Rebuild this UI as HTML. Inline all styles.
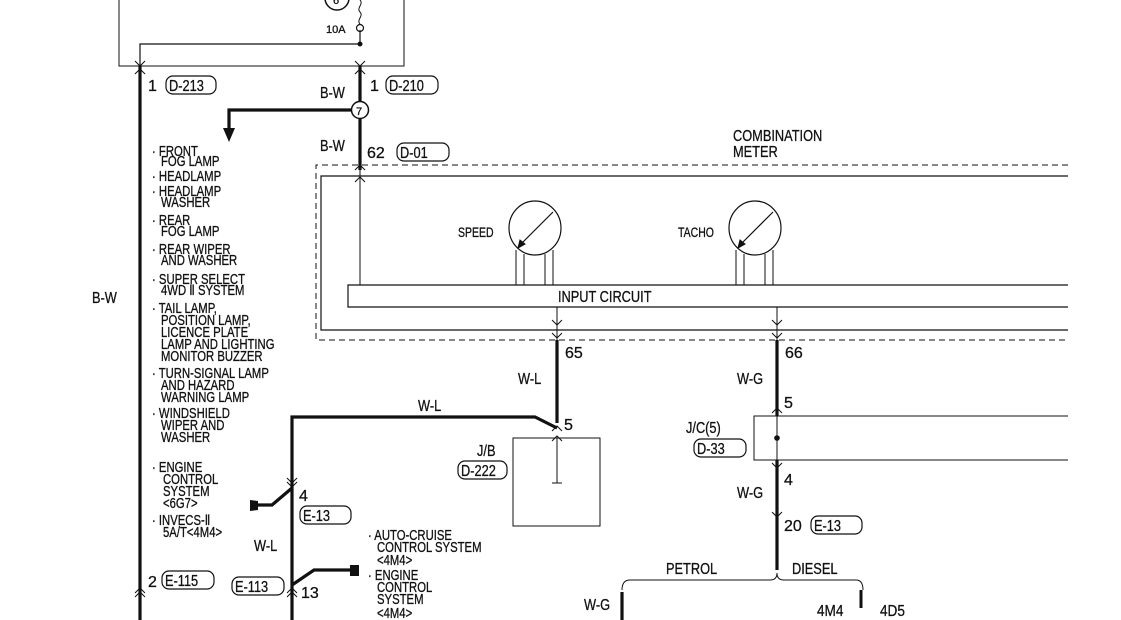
<!DOCTYPE html>
<html><head><meta charset="utf-8"><style>
html,body{margin:0;padding:0;background:#fff;}
svg{display:block;}
text{font-family:"Liberation Sans",sans-serif;font-size:16px;fill:#111;stroke:#111;stroke-width:0.3;}
.s text{font-size:14.5px;}
</style></head><body>
<svg width="1121" height="620" viewBox="0 0 1121 620" xmlns="http://www.w3.org/2000/svg">
<g fill="none" stroke="#111">
<path d="M119 0 V66 H404 V0" stroke-width="1"/>
<path d="M140 66 V44 H360 V30" stroke-width="1.2"/>
<circle cx="360" cy="44" r="2" fill="#111"/>
<circle cx="360" cy="28" r="3.5" stroke-width="1.2"/>
<path d="M360 24 C356 20 364 16 360 12 C356 8 364 4 360 0" stroke-width="1"/>
<circle cx="337" cy="-2" r="12" stroke-width="1.5"/>
<path d="M140 66 V620" stroke-width="3.2"/>
<path d="M360 66 V170" stroke-width="3.2"/>
<path d="M352 110 H229 V128" stroke-width="3.2"/>
<path d="M135 61 L140 66 L145 61 M135 74 L140 69 L145 74 M355 61 L360 66 L365 61 M355 74 L360 69 L365 74" stroke-width="1"/>
<path d="M1068 165 H316 V340 H1068" stroke-dasharray="6 4" stroke-width="1"/>
<path d="M1068 176 H321 V330 H1068" stroke-width="1.2"/>
<path d="M1068 285 H348 V307 H1068" stroke-width="1.2"/>
<path d="M360 170 V285" stroke-width="1"/>
<path d="M355 170 L360 165 L365 170 M355 182 L360 177 L365 182" stroke-width="1"/>
<ellipse cx="535" cy="228" rx="26" ry="27" stroke-width="1.2"/>
<path d="M516 250 V285 M524 254 V285 M545 254 V285 M553 250 V285" stroke-width="1"/>
<path d="M553 212 L520 245" stroke-width="1.2"/>
<polygon points="518,248 520,240 525,244" fill="#111"/>
<ellipse cx="755" cy="228" rx="26" ry="27" stroke-width="1.2"/>
<path d="M736 250 V285 M744 254 V285 M765 254 V285 M773 250 V285" stroke-width="1"/>
<path d="M773 212 L740 245" stroke-width="1.2"/>
<polygon points="738,248 740,240 745,244" fill="#111"/>
<path d="M557 307 V340 M777 307 V340" stroke-width="1"/>
<path d="M557 340 V423 M777 340 V416 M777 460 V570" stroke-width="3.2"/>
<path d="M552 320 L557 325 L562 320 M772 320 L777 325 L782 320 M552 333 L557 338 L562 333 M772 333 L777 338 L782 333" stroke-width="1"/>
<path d="M1068 416 H754 V460 H1068" stroke-width="1"/>
<path d="M777 416 V460" stroke-width="1"/>
<circle cx="777" cy="438" r="2.3" fill="#111"/>
<path d="M772 413 L777 408 L782 413 M772 463 L777 468 L782 463 M772 512 L777 517 L782 512" stroke-width="1"/>
<path d="M622 590 Q622 580 630 580 H770 Q777 580 777 573 Q777 580 784 580 H856 Q863 580 863 590" stroke-width="1"/>
<path d="M622 592 V620" stroke-width="3.2"/>
<path d="M861 590 V608" stroke-width="3"/>
<path d="M292 620 V417 H535 L557 428" stroke-width="3.2"/>
<path d="M552 431 L557 426 L562 431 M552 441 L557 436 L562 441" stroke-width="1"/>
<rect x="513" y="438" width="87" height="88" stroke-width="1"/>
<path d="M557 438 V483 M552 483 H562" stroke-width="1"/>
<path d="M292 488 L272 505 H256" stroke-width="3.2"/>
<path d="M287 482 L292 487 L297 482 M287 478 L292 483 L297 478" stroke-width="1"/>
<path d="M292 585 L314 570 H352" stroke-width="3.2"/>
<path d="M287 593 L292 588 L297 593 M287 597 L292 592 L297 597 M135 593 L140 588 L145 593 M135 597 L140 592 L145 597" stroke-width="1"/>
<rect x="166" y="76" width="50" height="18" rx="7" stroke-width="1.2"/>
<rect x="386" y="76" width="52" height="18" rx="7" stroke-width="1.2"/>
<rect x="397" y="143" width="52" height="18" rx="7" stroke-width="1.2"/>
<rect x="458" y="461" width="49" height="18" rx="7" stroke-width="1.2"/>
<rect x="300" y="506" width="51" height="18" rx="7" stroke-width="1.2"/>
<rect x="162" y="571" width="52" height="18" rx="7" stroke-width="1.2"/>
<rect x="232" y="577" width="52" height="18" rx="7" stroke-width="1.2"/>
<rect x="694" y="439" width="52" height="18" rx="7" stroke-width="1.2"/>
<rect x="811" y="516" width="51" height="18" rx="7" stroke-width="1.2"/>
</g>
<circle cx="360" cy="110" r="8.5" fill="#fff" stroke="#111" stroke-width="1.5"/>
<text x="356" y="115" style="font-size:11px">7</text>
<text x="333" y="4" style="font-size:11px">6</text>
<polygon points="223,128 235,128 229,142" fill="#111"/>
<polygon points="250,500 258,501 258,510 250,511" fill="#111"/>
<polygon points="350,565 359,565 359,576 350,576" fill="#111"/>
<g>
<text x="326" y="33" style="font-size:11px">10A</text>
<text x="148" y="91">1</text><text transform="translate(169,91) scale(.8,1)">D-213</text>
<text transform="translate(320,98) scale(.8,1)">B-W</text>
<text x="370" y="91">1</text><text transform="translate(389,91) scale(.8,1)">D-210</text>
<text transform="translate(320,151) scale(.8,1)">B-W</text>
<text x="367" y="158">62</text><text transform="translate(400,158) scale(.8,1)">D-01</text>
<text transform="translate(733,141) scale(.8,1)">COMBINATION</text>
<text transform="translate(733,157) scale(.8,1)">METER</text>
<text transform="translate(458,237) scale(.75,1)" style="font-size:14px">SPEED</text>
<text transform="translate(678,237) scale(.75,1)" style="font-size:14px">TACHO</text>
<text transform="translate(558,302) scale(.8,1)">INPUT CIRCUIT</text>
<text transform="translate(92,303) scale(.8,1)">B-W</text>
<text x="565" y="358">65</text>
<text x="785" y="358">66</text>
<text transform="translate(518,384) scale(.8,1)">W-L</text>
<text transform="translate(737,384) scale(.8,1)">W-G</text>
<text x="784" y="408">5</text>
<text x="564" y="430">5</text>
<text transform="translate(418,411) scale(.8,1)">W-L</text>
<text transform="translate(477,456) scale(.8,1)">J/B</text>
<text transform="translate(461,476) scale(.8,1)">D-222</text>
<text transform="translate(686,433) scale(.8,1)">J/C(5)</text>
<text transform="translate(697,454) scale(.8,1)">D-33</text>
<text x="784" y="485">4</text>
<text transform="translate(737,498) scale(.8,1)">W-G</text>
<text x="784" y="531">20</text><text transform="translate(814,531) scale(.8,1)">E-13</text>
<text transform="translate(666,574) scale(.8,1)">PETROL</text>
<text transform="translate(792,574) scale(.8,1)">DIESEL</text>
<text transform="translate(584,610) scale(.8,1)">W-G</text>
<text transform="translate(817,616) scale(.85,1)">4M4</text>
<text transform="translate(880,616) scale(.85,1)">4D5</text>
<text x="299" y="501">4</text>
<text transform="translate(303,521) scale(.8,1)">E-13</text>
<text transform="translate(254,551) scale(.8,1)">W-L</text>
<text x="148" y="587">2</text><text transform="translate(165,586) scale(.8,1)">E-115</text>
<text transform="translate(235,592) scale(.8,1)">E-113</text>
<text x="301" y="598">13</text>
</g>
<g class="s">
<text transform="translate(152,156) scale(.78,1)">· FRONT</text>
<text transform="translate(161,166) scale(.78,1)">FOG LAMP</text>
<text transform="translate(152,181) scale(.78,1)">· HEADLAMP</text>
<text transform="translate(152,196) scale(.78,1)">· HEADLAMP</text>
<text transform="translate(161,207) scale(.78,1)">WASHER</text>
<text transform="translate(152,225) scale(.78,1)">· REAR</text>
<text transform="translate(161,236) scale(.78,1)">FOG LAMP</text>
<text transform="translate(152,254) scale(.78,1)">· REAR WIPER</text>
<text transform="translate(161,265) scale(.78,1)">AND WASHER</text>
<text transform="translate(152,284) scale(.78,1)">· SUPER SELECT</text>
<text transform="translate(161,295) scale(.78,1)">4WD Ⅱ SYSTEM</text>
<text transform="translate(152,313) scale(.78,1)">· TAIL LAMP,</text>
<text transform="translate(161,325) scale(.78,1)">POSITION LAMP,</text>
<text transform="translate(161,337) scale(.78,1)">LICENCE PLATE</text>
<text transform="translate(161,349) scale(.78,1)">LAMP AND LIGHTING</text>
<text transform="translate(161,361) scale(.78,1)">MONITOR BUZZER</text>
<text transform="translate(152,378) scale(.78,1)">· TURN-SIGNAL LAMP</text>
<text transform="translate(161,390) scale(.78,1)">AND HAZARD</text>
<text transform="translate(161,402) scale(.78,1)">WARNING LAMP</text>
<text transform="translate(152,418) scale(.78,1)">· WINDSHIELD</text>
<text transform="translate(161,430) scale(.78,1)">WIPER AND</text>
<text transform="translate(161,442) scale(.78,1)">WASHER</text>
<text transform="translate(152,472) scale(.78,1)">· ENGINE</text>
<text transform="translate(163,484) scale(.78,1)">CONTROL</text>
<text transform="translate(163,496) scale(.78,1)">SYSTEM</text>
<text transform="translate(163,508) scale(.78,1)">&lt;6G7&gt;</text>
<text transform="translate(152,525) scale(.78,1)">· INVECS-Ⅱ</text>
<text transform="translate(163,537) scale(.78,1)">5A/T&lt;4M4&gt;</text>
<text transform="translate(368,540) scale(.78,1)">· AUTO-CRUISE</text>
<text transform="translate(377,552) scale(.78,1)">CONTROL SYSTEM</text>
<text transform="translate(377,565) scale(.78,1)">&lt;4M4&gt;</text>
<text transform="translate(368,580) scale(.78,1)">· ENGINE</text>
<text transform="translate(377,592) scale(.78,1)">CONTROL</text>
<text transform="translate(377,604) scale(.78,1)">SYSTEM</text>
<text transform="translate(377,618) scale(.78,1)">&lt;4M4&gt;</text>
</g>
</svg>
</body></html>
